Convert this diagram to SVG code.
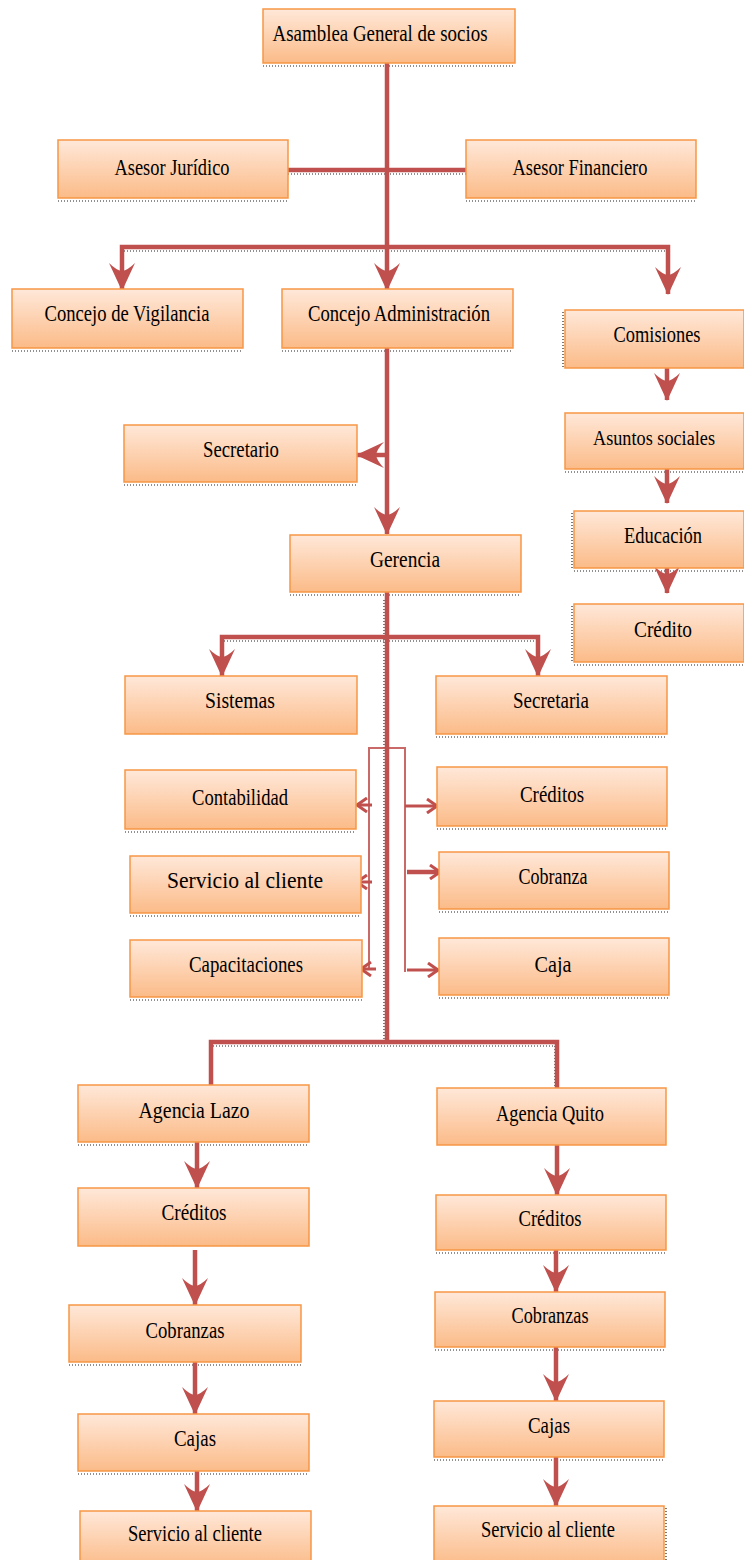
<svg xmlns="http://www.w3.org/2000/svg" width="744" height="1560" viewBox="0 0 744 1560">
<defs>
<linearGradient id="g" x1="0" y1="0" x2="0" y2="1">
<stop offset="0" stop-color="#FFE8D9"/>
<stop offset="1" stop-color="#FBBB88"/>
</linearGradient>
<marker id="big" markerUnits="userSpaceOnUse" markerWidth="30" markerHeight="28" viewBox="0 0 30 28" refX="28" refY="14" orient="auto">
<path d="M29,14 L1,1 Q8,8 9,14 Q8,20 1,27 Z" fill="#C0504D"/>
</marker>
<marker id="open" markerUnits="userSpaceOnUse" markerWidth="14" markerHeight="16" viewBox="0 0 14 16" refX="12" refY="8" orient="auto">
<path d="M2,1 L12,8 L2,15" fill="none" stroke="#C0504D" stroke-width="3"/>
</marker>
</defs>
<style>
.box rect{fill:url(#g);stroke:#F79646;stroke-width:1.5}
.box text{font-family:"Liberation Serif","Times New Roman",serif;font-size:23px;fill:#000;text-anchor:middle}
.sh{stroke:#222;stroke-width:1.2;stroke-dasharray:1 2;fill:none}
.c{stroke:#C0504D;stroke-width:4.5;fill:none}
.t{stroke:#C0504D;stroke-width:2;fill:none;opacity:0.85}
.ta{stroke:#C0504D;stroke-width:3;fill:none}
</style>
<rect width="744" height="1560" fill="#fff"/>

<g id="shadows">
<line class="sh" x1="263" y1="66" x2="515" y2="66"/>
<line class="sh" x1="58" y1="201" x2="288" y2="201"/>
<line class="sh" x1="466" y1="201" x2="696" y2="201"/>
<line class="sh" x1="288" y1="174" x2="466" y2="174"/>
<line class="sh" x1="124" y1="251" x2="666" y2="251"/>
<line class="sh" x1="12" y1="351" x2="243" y2="351"/>
<line class="sh" x1="282" y1="351" x2="513" y2="351"/>
<line class="sh" x1="563" y1="312" x2="563" y2="368"/>
<line class="sh" x1="124" y1="485" x2="357" y2="485"/>
<line class="sh" x1="565" y1="472" x2="744" y2="472"/>
<line class="sh" x1="572" y1="513" x2="572" y2="568"/>
<line class="sh" x1="574" y1="571" x2="744" y2="571"/>
<line class="sh" x1="572" y1="606" x2="572" y2="662"/>
<line class="sh" x1="574" y1="665" x2="744" y2="665"/>
<line class="sh" x1="290" y1="595" x2="521" y2="595"/>
<line class="sh" x1="224" y1="641" x2="536" y2="641"/>
<line class="sh" x1="355" y1="678" x2="355" y2="734"/>
<line class="sh" x1="436" y1="737" x2="667" y2="737"/>
<line class="sh" x1="384" y1="600" x2="384" y2="1040"/>
<line class="sh" x1="125" y1="832" x2="356" y2="832"/>
<line class="sh" x1="437" y1="829" x2="667" y2="829"/>
<line class="sh" x1="130" y1="916" x2="361" y2="916"/>
<line class="sh" x1="439" y1="912" x2="669" y2="912"/>
<line class="sh" x1="130" y1="1000" x2="362" y2="1000"/>
<line class="sh" x1="439" y1="998" x2="669" y2="998"/>
<line class="sh" x1="213" y1="1046" x2="554" y2="1046"/>
<line class="sh" x1="555" y1="1046" x2="555" y2="1088"/>
<line class="sh" x1="78" y1="1145" x2="309" y2="1145"/>
<line class="sh" x1="436" y1="1253" x2="666" y2="1253"/>
<line class="sh" x1="69" y1="1365" x2="301" y2="1365"/>
<line class="sh" x1="435" y1="1350" x2="665" y2="1350"/>
<line class="sh" x1="78" y1="1474" x2="309" y2="1474"/>
<line class="sh" x1="434" y1="1460" x2="664" y2="1460"/>
<line class="sh" x1="666" y1="1508" x2="666" y2="1560"/>
</g>

<g id="connectors">
<line class="c" x1="387" y1="63" x2="387" y2="290" marker-end="url(#big)"/>
<line class="c" x1="288" y1="170" x2="466" y2="170"/>
<path class="c" d="M387,247 H122 V290" marker-end="url(#big)"/>
<path class="c" d="M387,247 H668 V294" marker-end="url(#big)"/>
<line class="c" x1="387" y1="348" x2="387" y2="534" marker-end="url(#big)"/>
<line class="c" x1="387" y1="455" x2="357" y2="455" marker-end="url(#big)"/>
<line class="c" x1="667" y1="352" x2="667" y2="400" marker-end="url(#big)"/>
<line class="c" x1="667" y1="460" x2="667" y2="503" marker-end="url(#big)"/>
<line class="c" x1="667" y1="558" x2="667" y2="593" marker-end="url(#big)"/>
<line class="c" x1="387" y1="592" x2="387" y2="1042"/>
<path class="c" d="M387,637 H222 V676" marker-end="url(#big)"/>
<path class="c" d="M387,637 H538 V676" marker-end="url(#big)"/>
<path class="t" d="M369,968 V748 H405 V972"/>
<line class="ta" x1="372" y1="805" x2="357" y2="805" marker-end="url(#open)"/>
<line class="ta" x1="372" y1="882" x2="357" y2="882" marker-end="url(#open)"/>
<line class="ta" x1="376" y1="969" x2="361" y2="969" marker-end="url(#open)"/>
<line class="ta" x1="405" y1="806" x2="437" y2="806" marker-end="url(#open)"/>
<line class="c" x1="407" y1="872" x2="440" y2="872" marker-end="url(#open)"/>
<line class="ta" x1="407" y1="970" x2="438" y2="970" marker-end="url(#open)"/>
<path class="c" d="M211,1085 V1042 H557 V1090"/>
<line class="c" x1="197" y1="1142" x2="197" y2="1188" marker-end="url(#big)"/>
<line class="c" x1="195" y1="1250" x2="195" y2="1305" marker-end="url(#big)"/>
<line class="c" x1="195" y1="1362" x2="195" y2="1414" marker-end="url(#big)"/>
<line class="c" x1="197" y1="1471" x2="197" y2="1511" marker-end="url(#big)"/>
<line class="c" x1="557" y1="1145" x2="557" y2="1195" marker-end="url(#big)"/>
<line class="c" x1="556" y1="1242" x2="556" y2="1292" marker-end="url(#big)"/>
<line class="c" x1="556" y1="1347" x2="556" y2="1401" marker-end="url(#big)"/>
<line class="c" x1="556" y1="1457" x2="556" y2="1506" marker-end="url(#big)"/>
</g>

<g id="asamblea" class="box"><rect x="263" y="9" width="252" height="54"/><text x="380" y="41" textLength="215" lengthAdjust="spacingAndGlyphs">Asamblea General de socios</text></g>
<g id="asesor-juridico" class="box"><rect x="58" y="140" width="230" height="58"/><text x="172" y="175" textLength="115" lengthAdjust="spacingAndGlyphs">Asesor Jurídico</text></g>
<g id="asesor-financiero" class="box"><rect x="466" y="140" width="230" height="58"/><text x="580" y="175" textLength="135" lengthAdjust="spacingAndGlyphs">Asesor Financiero</text></g>
<g id="concejo-vigilancia" class="box"><rect x="12" y="289" width="231" height="59"/><text x="127" y="321" textLength="165" lengthAdjust="spacingAndGlyphs">Concejo de Vigilancia</text></g>
<g id="concejo-administracion" class="box"><rect x="282" y="289" width="231" height="59"/><text x="399" y="321" textLength="182" lengthAdjust="spacingAndGlyphs">Concejo Administración</text></g>
<g id="comisiones" class="box"><rect x="565" y="310" width="179" height="58"/><text x="657" y="342" textLength="87" lengthAdjust="spacingAndGlyphs">Comisiones</text></g>
<g id="secretario" class="box"><rect x="124" y="425" width="233" height="57"/><text x="241" y="457" textLength="76" lengthAdjust="spacingAndGlyphs">Secretario</text></g>
<g id="asuntos-sociales" class="box"><rect x="565" y="413" width="179" height="56"/><text x="654" y="445" style="font-size:20px" textLength="122" lengthAdjust="spacingAndGlyphs">Asuntos sociales</text></g>
<g id="educacion" class="box"><rect x="574" y="511" width="170" height="57"/><text x="663" y="543" textLength="78" lengthAdjust="spacingAndGlyphs">Educación</text></g>
<g id="credito" class="box"><rect x="574" y="604" width="170" height="58"/><text x="663" y="637" textLength="58" lengthAdjust="spacingAndGlyphs">Crédito</text></g>
<g id="gerencia" class="box"><rect x="290" y="535" width="231" height="57"/><text x="405" y="567" textLength="70" lengthAdjust="spacingAndGlyphs">Gerencia</text></g>
<g id="sistemas" class="box"><rect x="125" y="676" width="232" height="58"/><text x="240" y="708" textLength="70" lengthAdjust="spacingAndGlyphs">Sistemas</text></g>
<g id="secretaria" class="box"><rect x="436" y="676" width="231" height="58"/><text x="551" y="708" textLength="76" lengthAdjust="spacingAndGlyphs">Secretaria</text></g>
<g id="contabilidad" class="box"><rect x="125" y="770" width="231" height="59"/><text x="240" y="805" textLength="96" lengthAdjust="spacingAndGlyphs">Contabilidad</text></g>
<g id="creditos-gerencia" class="box"><rect x="437" y="767" width="230" height="59"/><text x="552" y="802" textLength="64" lengthAdjust="spacingAndGlyphs">Créditos</text></g>
<g id="servicio-cliente-gerencia" class="box"><rect x="130" y="856" width="231" height="57"/><text x="245" y="888" textLength="156" lengthAdjust="spacingAndGlyphs">Servicio al cliente</text></g>
<g id="cobranza" class="box"><rect x="439" y="852" width="230" height="57"/><text x="553" y="884" textLength="69" lengthAdjust="spacingAndGlyphs">Cobranza</text></g>
<g id="capacitaciones" class="box"><rect x="130" y="940" width="232" height="57"/><text x="246" y="972" textLength="114" lengthAdjust="spacingAndGlyphs">Capacitaciones</text></g>
<g id="caja" class="box"><rect x="439" y="938" width="230" height="57"/><text x="553" y="972" textLength="37" lengthAdjust="spacingAndGlyphs">Caja</text></g>
<g id="agencia-lazo" class="box"><rect x="78" y="1085" width="231" height="57"/><text x="194" y="1118" textLength="111" lengthAdjust="spacingAndGlyphs">Agencia Lazo</text></g>
<g id="agencia-quito" class="box"><rect x="437" y="1088" width="229" height="57"/><text x="550" y="1121" textLength="108" lengthAdjust="spacingAndGlyphs">Agencia Quito</text></g>
<g id="creditos-lazo" class="box"><rect x="78" y="1188" width="231" height="58"/><text x="194" y="1220" textLength="65" lengthAdjust="spacingAndGlyphs">Créditos</text></g>
<g id="cobranzas-lazo" class="box"><rect x="69" y="1305" width="232" height="57"/><text x="185" y="1338" textLength="79" lengthAdjust="spacingAndGlyphs">Cobranzas</text></g>
<g id="cajas-lazo" class="box"><rect x="78" y="1414" width="231" height="57"/><text x="195" y="1446" textLength="42" lengthAdjust="spacingAndGlyphs">Cajas</text></g>
<g id="servicio-cliente-lazo" class="box"><rect x="80" y="1511" width="231" height="56"/><text x="195" y="1541" textLength="134" lengthAdjust="spacingAndGlyphs">Servicio al cliente</text></g>
<g id="creditos-quito" class="box"><rect x="436" y="1195" width="230" height="55"/><text x="550" y="1226" textLength="63" lengthAdjust="spacingAndGlyphs">Créditos</text></g>
<g id="cobranzas-quito" class="box"><rect x="435" y="1292" width="230" height="55"/><text x="550" y="1323" textLength="77" lengthAdjust="spacingAndGlyphs">Cobranzas</text></g>
<g id="cajas-quito" class="box"><rect x="434" y="1401" width="230" height="56"/><text x="549" y="1433" textLength="42" lengthAdjust="spacingAndGlyphs">Cajas</text></g>
<g id="servicio-cliente-quito" class="box"><rect x="434" y="1506" width="230" height="60"/><text x="548" y="1537" textLength="134" lengthAdjust="spacingAndGlyphs">Servicio al cliente</text></g>
</svg>
